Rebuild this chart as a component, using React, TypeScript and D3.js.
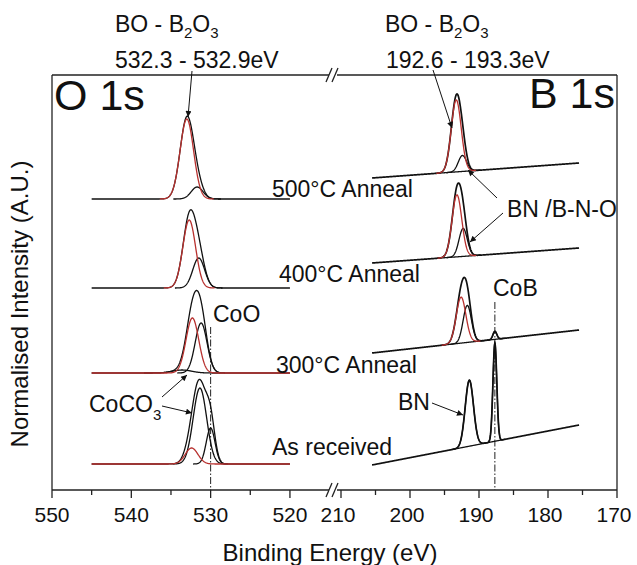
import React from "react";
import * as d3 from "d3";

const W = 637;
const H = 565;

// axis ticks
const oMajor = [550, 540, 530, 520];
const oMinor = [545, 535, 525];
const bMajor = [210, 200, 190, 180, 170];
const bMinor = [205, 195, 185, 175];

// spectra, bottom to top
const levels = ["As received", "300°C Anneal", "400°C Anneal", "500°C Anneal"];

// O 1s : flat baselines (A.U.) and fitted peaks [centre eV, height, sigma]
const oOffset = [26, 117, 202, 291];
const oBlack = [
  [[531.35, 76, 0.85], [530.0, 36, 0.55]],
  [[531.2, 50, 0.75], [533.6, 3, 1.2]],
  [[531.5, 30, 0.75]],
  [[531.7, 12, 0.75]],
];
const oRed = [
  [[532.4, 16, 0.8]],
  [[532.3, 55, 0.8]],
  [[532.7, 68, 0.8]],
  [[533.0, 80, 0.85]],
];
const oRedFull = [true, true, false, false];

// B 1s : sloped baselines (at 205.5 and 175.5 eV) and fitted peaks
const bStart = [25, 137, 227, 312];
const bEnd = [65, 160, 242, 327];
const bBlack = [
  [[191.4, 66, 0.6], [187.7, 98, 0.28]],
  [[191.7, 37, 0.6], [187.7, 8, 0.28]],
  [[192.3, 28, 0.6]],
  [[192.4, 16, 0.6]],
];
const bRed = [
  [],
  [[192.6, 46, 0.7]],
  [[193.2, 62, 0.7]],
  [[193.3, 72, 0.72]],
];

const RED = "#b8312f";
const FONT = "Liberation Sans, Arial, sans-serif";

const xO = d3.scaleLinear().domain([550, 515]).range([52, 329.6]);
const xB = d3.scaleLinear().domain([210, 170]).range([341, 617]);
const y = d3.scaleLinear().domain([0, 415]).range([490, 75]);

const gauss = (e, p) => p[1] * Math.exp(-((e - p[0]) ** 2) / (2 * p[2] * p[2]));
const sum = (e, peaks) => peaks.reduce((s, p) => s + gauss(e, p), 0);

function curve(xs, lo, hi, base, peaks) {
  const pts = d3.range(lo, hi + 0.001, 0.04).map((e) => [e, base(e) + sum(e, peaks)]);
  return d3.line().x((d) => xs(d[0])).y((d) => y(d[1]))(pts);
}

function Arrow({ x1, y1, x2, y2 }) {
  return <line x1={x1} y1={y1} x2={x2} y2={y2} stroke="#111" strokeWidth={1} markerEnd="url(#ah)" />;
}

export default function App() {
  const oPaths = levels.map((_, i) => {
    const base = () => oOffset[i];
    const out = [];
    out.push(<path key="env" d={curve(xO, 520, 545, base, [...oBlack[i], ...oRed[i]])} />);
    oBlack[i].forEach((p, j) =>
      out.push(<path key={"b" + j} d={curve(xO, p[0] - 4 * p[2], p[0] + 4 * p[2], base, [p])} />)
    );
    oRed[i].forEach((p, j) => {
      const lo = oRedFull[i] ? 520 : p[0] - 4 * p[2];
      const hi = oRedFull[i] ? 545 : p[0] + 4 * p[2];
      out.push(<path key={"r" + j} d={curve(xO, lo, hi, base, [p])} stroke={RED} />);
    });
    return <g key={i}>{out}</g>;
  });

  const bPaths = levels.map((_, i) => {
    const base = (e) => bStart[i] + ((205.5 - e) / 30) * (bEnd[i] - bStart[i]);
    const out = [];
    out.push(
      <path key="env" d={curve(xB, 175.5, 205.5, base, [...bBlack[i], ...bRed[i]])} strokeWidth={1.7} />
    );
    const all = [...bBlack[i], ...bRed[i]];
    if (all.length) {
      const lo = d3.min(all, (p) => p[0] - 3.5 * p[2]);
      const hi = d3.max(all, (p) => p[0] + 3.5 * p[2]);
      out.push(<path key="bl" d={curve(xB, lo - 0.5, hi + 0.5, base, [])} />);
    }
    bBlack[i].forEach((p, j) =>
      out.push(<path key={"b" + j} d={curve(xB, p[0] - 4 * p[2], p[0] + 4 * p[2], base, [p])} />)
    );
    bRed[i].forEach((p, j) =>
      out.push(<path key={"r" + j} d={curve(xB, p[0] - 4 * p[2], p[0] + 4 * p[2], base, [p])} stroke={RED} />)
    );
    return <g key={i}>{out}</g>;
  });

  const slash = (cx, cy) => (
    <g>
      <line x1={cx - 7} y1={cy + 7} x2={cx - 1} y2={cy - 7} />
      <line x1={cx - 1} y1={cy + 7} x2={cx + 5} y2={cy - 7} />
    </g>
  );

  const labelY = [455, 373, 282, 197];
  const labelX = [272, 276, 279, 272];

  return (
    <div style={{ position: "absolute", left: 0, top: 0 }}>
      <svg width={W} height={H} fontFamily={FONT} style={{ display: "block", background: "#fff" }}>
        <defs>
          <marker id="ah" viewBox="0 0 10 10" refX="10" refY="5" markerWidth="8" markerHeight="6" orient="auto" markerUnits="userSpaceOnUse">
            <path d="M0,0 L10,5 L0,10 z" fill="#111" />
          </marker>
        </defs>

        {/* frame */}
        <g stroke="#222" strokeWidth={1.3} fill="none">
          <line x1={52} y1={75} x2={52} y2={490} />
          <line x1={617} y1={75} x2={617} y2={490} />
          <line x1={52} y1={75} x2={329} y2={75} />
          <line x1={337} y1={75} x2={617} y2={75} />
          <line x1={52} y1={490} x2={329} y2={490} />
          <line x1={337} y1={490} x2={617} y2={490} />
          {slash(333, 75)}
          {slash(333, 490)}
          {oMajor.map((v) => <line key={v} x1={xO(v)} x2={xO(v)} y1={490} y2={498} />)}
          {oMinor.map((v) => <line key={v} x1={xO(v)} x2={xO(v)} y1={490} y2={495} />)}
          {bMajor.map((v) => <line key={v} x1={xB(v)} x2={xB(v)} y1={490} y2={498} />)}
          {bMinor.map((v) => <line key={v} x1={xB(v)} x2={xB(v)} y1={490} y2={495} />)}
        </g>

        <g fontSize={21} textAnchor="middle" fill="#111">
          {oMajor.map((v) => <text key={v} x={xO(v)} y={522}>{v}</text>)}
          {bMajor.map((v) => <text key={v} x={xB(v) - 3} y={522}>{v}</text>)}
        </g>
        <text x={330} y={561} fontSize={24} textAnchor="middle" fill="#111">Binding Energy (eV)</text>
        <text transform="translate(28,304) rotate(-90)" fontSize={24} textAnchor="middle" fill="#111">
          Normalised Intensity (A.U.)
        </text>

        {/* reference lines */}
        <g stroke="#222" strokeWidth={1} strokeDasharray="7,2,1.5,2">
          <line x1={xO(530)} x2={xO(530)} y1={327} y2={490} />
          <line x1={xB(187.7)} x2={xB(187.7)} y1={302} y2={490} />
        </g>

        {/* spectra */}
        <g fill="none" stroke="#111" strokeWidth={1.3}>
          {oPaths}
          {bPaths}
        </g>

        {/* labels */}
        <text x={54} y={110} fontSize={43} fill="#111">O 1s</text>
        <text x={615} y={108} fontSize={43} textAnchor="end" fill="#111">B 1s</text>
        <g fontSize={23} fill="#111">
          {levels.map((l, i) => <text key={l} x={labelX[i]} y={labelY[i]}>{l}</text>)}
          <text x={115} y={32}>BO - B<tspan fontSize={15} dy={6}>2</tspan><tspan dy={-6}>O</tspan><tspan fontSize={15} dy={6}>3</tspan></text>
          <text x={115} y={68}>532.3 - 532.9eV</text>
          <text x={385} y={32}>BO - B<tspan fontSize={15} dy={6}>2</tspan><tspan dy={-6}>O</tspan><tspan fontSize={15} dy={6}>3</tspan></text>
          <text x={386} y={68}>192.6 - 193.3eV</text>
          <text x={507} y={217}>BN /B-N-O</text>
          <text x={493} y={296}>CoB</text>
          <text x={213} y={322}>CoO</text>
          <text x={89} y={412}>CoCO<tspan fontSize={15} dy={8}>3</tspan></text>
          <text x={398} y={410}>BN</text>
        </g>

        {/* arrows */}
        <Arrow x1={192} y1={71} x2={188} y2={117} />
        <Arrow x1={433} y1={70} x2={452} y2={128} />
        <Arrow x1={497} y1={198} x2={468} y2={170} />
        <Arrow x1={503} y1={213} x2={470} y2={242} />
        <Arrow x1={162} y1={397} x2={187} y2={375} />
        <Arrow x1={162} y1={406} x2={192} y2={413} />
        <Arrow x1={432} y1={403} x2={463} y2={415} />
      </svg>
    </div>
  );
}
